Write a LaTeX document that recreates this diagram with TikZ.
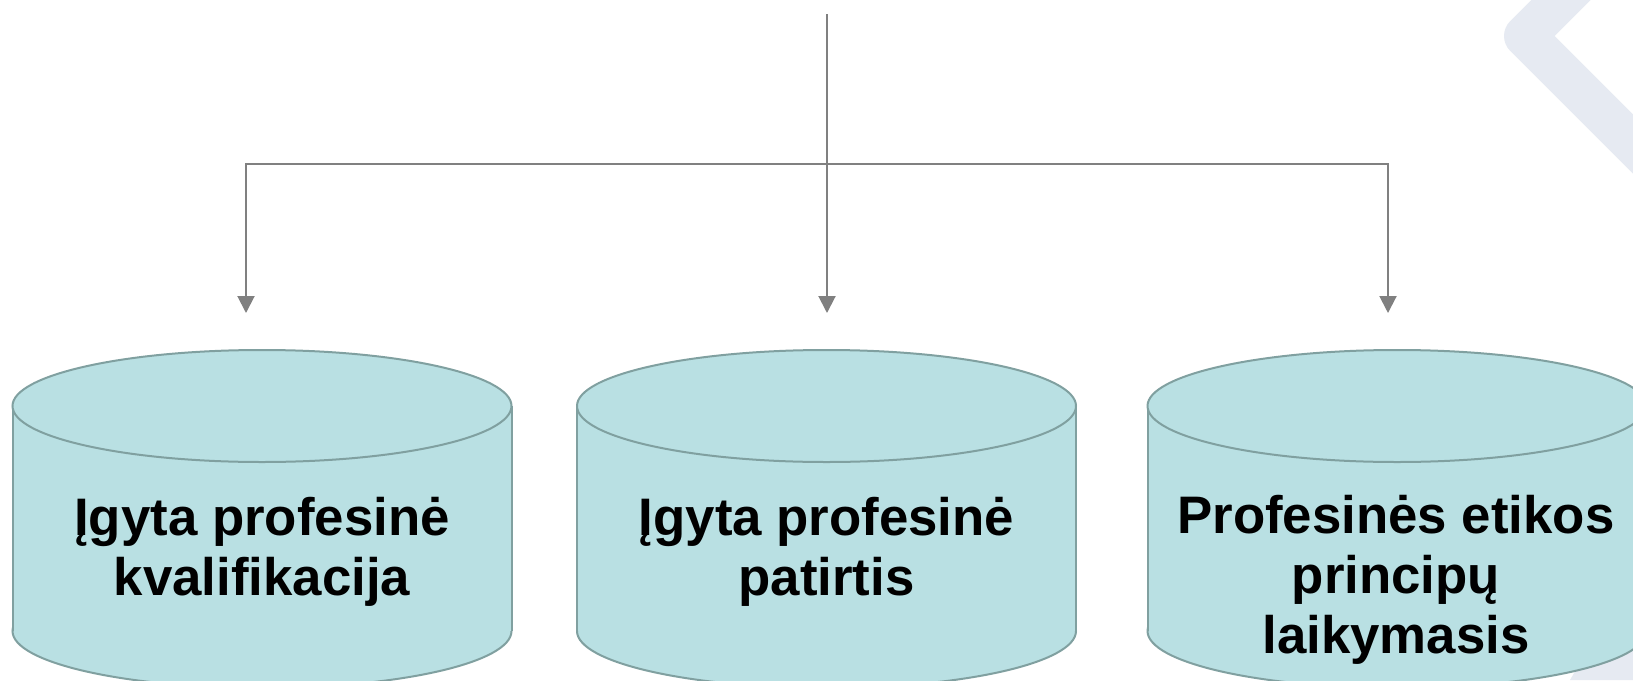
\documentclass[tikz,border=0pt]{standalone}
\usepackage{fontspec}
\setmainfont{Liberation Sans}
\usetikzlibrary{arrows.meta}
\definecolor{cylfill}{RGB}{185,224,227}
\definecolor{cylline}{RGB}{128,160,160}
\definecolor{connc}{RGB}{128,128,128}
\definecolor{chevc}{RGB}{230,234,242}
\newcommand{\drawcyl}[2]{%
  \fill[cylfill,draw=cylline,line width=1pt] (#1,631) ellipse[x radius=#2, y radius=57];
  \fill[cylfill] ({#1-#2},406) rectangle ({#1+#2},631);
  \draw[cylline,line width=1pt] ({#1-#2},406) -- ({#1-#2},631);
  \draw[cylline,line width=1pt] ({#1+#2},406) -- ({#1+#2},631);
  \fill[cylfill,draw=cylline,line width=1pt] (#1,406) ellipse[x radius=#2, y radius=56];
}
\begin{document}
\begin{tikzpicture}[x=0.5pt,y=-0.5pt,
  connline/.style={draw=connc, line width=1pt},
  arr/.style={connline, -{Triangle[width=8.5pt,length=8.5pt]}},
  lbl/.style={font=\bfseries\fontsize{26.4}{30}\selectfont, align=center, anchor=base, inner sep=0pt},
]
\useasboundingbox (0,0) rectangle (1633,680);
\clip (0,0) rectangle (1633,680);
\fill[white] (0,0) rectangle (1633,680);
% background chevron
\draw[chevc, line width=21pt, line join=round] (1585,-24) -- (1525,36) -- (1775,286);
\fill[chevc] (1640,560) -- (1570,680) -- (1640,680) -- cycle;
% cylinders
\drawcyl{262}{249.5}
\drawcyl{826.5}{249.5}
\drawcyl{1397}{249.5}
% labels (anchor base = last line)
\node[lbl] (t1) at (262,595) {Įgyta profesinė\\kvalifikacija};
\node[lbl] (t2) at (826.5,595) {Įgyta profesinė\\patirtis};
\node[lbl] (t3) at (1396,653) {Profesinės etikos\\principų\\laikymasis};
% connectors
\coordinate (top) at (827,14);
\coordinate (j) at (827,164);
\coordinate (e1) at (246,313);
\coordinate (e2) at (827,313);
\coordinate (e3) at (1388,313);
\draw[connline] (top) -- (j);
\draw[arr] (j) -- (e2);
\draw[arr] (j) -| (e1);
\draw[arr] (j) -| (e3);
\end{tikzpicture}
\end{document}
